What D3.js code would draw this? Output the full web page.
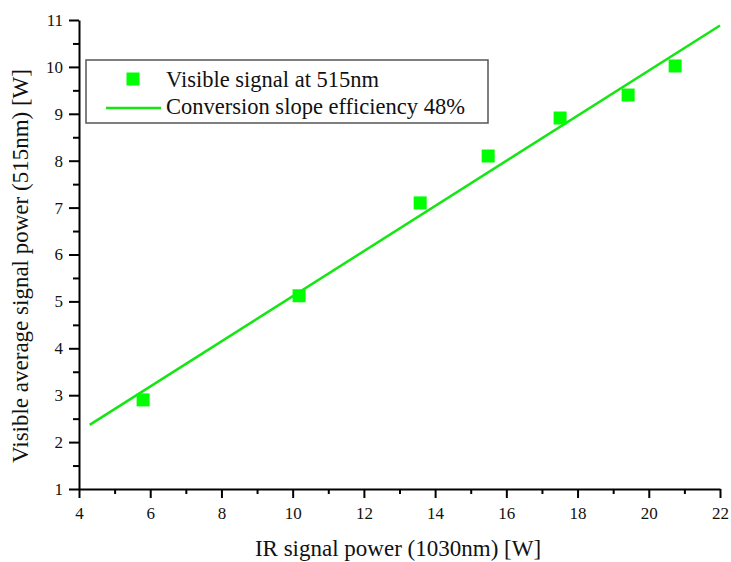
<!DOCTYPE html>
<html>
<head>
<meta charset="utf-8">
<script src="https://cdn.jsdelivr.net/npm/d3@7"></script>
<style>
  html, body { margin: 0; padding: 0; background: #fff; }
  svg { display: block; }
</style>
</head>
<body>
<svg id="chart" width="731" height="562"></svg>
<script>
// Measured visible output vs. IR input power
const irPower = [5.8, 10.18, 13.58, 15.49, 17.51, 19.42, 20.74];
const visiblePower = [2.9, 5.12, 7.1, 8.1, 8.91, 9.4, 10.02];

// Linear fit: slope 0.481 (48%), intercept 0.30, drawn from 4.3 W to 22 W
const fitX = [4.3, 22];
const fitSlope = 0.481;
const fitIntercept = 0.30;

const xTicks = [4, 6, 8, 10, 12, 14, 16, 18, 20, 22];
const yTicks = [1, 2, 3, 4, 5, 6, 7, 8, 9, 10, 11];

const legendLabels = ["Visible signal at 515nm", "Conversion slope efficiency 48%"];
const xTitle = "IR signal power (1030nm) [W]";
const yTitle = "Visible average signal power (515nm) [W]";

const serif = "'Liberation Serif', 'Times New Roman', serif";
const svg = d3.select("#chart").style("font-family", serif);
const plotLeft = 79, plotRight = 720, plotTop = 20, plotBottom = 489;
const green = "#00ff00";
const lineGreen = "#14e614";
const textColor = "#111";

const x = d3.scaleLinear().domain([4, 22]).range([plotLeft, plotRight]);
const y = d3.scaleLinear().domain([1, 11]).range([plotBottom, plotTop]);

// Axes: major ticks every 2 (x) / 1 (y), minor ticks in between
function drawAxis(g, axis) {
  g.call(axis);
  g.attr("font-family", serif).attr("font-size", 17);
  g.select(".domain").attr("stroke", "#000").attr("stroke-width", 2);
  g.selectAll(".tick line").attr("stroke", "#000").attr("stroke-width", 2);
  g.selectAll(".tick text").style("font-family", serif).style("font-size", "17px").attr("fill", textColor);
}

const xMinor = d3.range(5, 22, 2);
const yMinor = d3.range(1.5, 11, 1);

svg.append("g").attr("transform", `translate(0,${plotBottom})`)
  .call(g => g.call(d3.axisBottom(x).tickValues(xMinor).tickSize(5).tickFormat("")))
  .call(g => { g.select(".domain").remove(); g.selectAll(".tick line").attr("stroke", "#000").attr("stroke-width", 2); });

svg.append("g").attr("transform", `translate(${plotLeft},0)`)
  .call(g => g.call(d3.axisLeft(y).tickValues(yMinor).tickSize(6).tickFormat("")))
  .call(g => { g.select(".domain").remove(); g.selectAll(".tick line").attr("stroke", "#000").attr("stroke-width", 2); });

svg.append("g").attr("transform", `translate(0,${plotBottom})`)
  .call(g => drawAxis(g, d3.axisBottom(x).tickValues(xTicks).tickSize(9).tickSizeOuter(0).tickPadding(9).tickFormat(d3.format("d"))));

svg.append("g").attr("transform", `translate(${plotLeft},0)`)
  .call(g => drawAxis(g, d3.axisLeft(y).tickValues(yTicks).tickSize(10).tickSizeOuter(0).tickPadding(6).tickFormat(d3.format("d"))));

// Fitted conversion line
const line = d3.line().x(d => x(d)).y(d => y(fitIntercept + fitSlope * d));
svg.append("path")
  .datum(fitX)
  .attr("d", line)
  .attr("fill", "none")
  .attr("stroke", lineGreen)
  .attr("stroke-width", 2.5);

// Measured points
const sq = 13;
svg.append("g").selectAll("rect")
  .data(irPower.map((v, i) => [v, visiblePower[i]]))
  .join("rect")
  .attr("x", d => x(d[0]) - sq / 2)
  .attr("y", d => y(d[1]) - sq / 2)
  .attr("width", sq)
  .attr("height", sq)
  .attr("fill", green);

// Axis titles
svg.append("text")
  .attr("x", 398)
  .attr("y", 556)
  .attr("text-anchor", "middle")
  .attr("fill", textColor)
  .style("font-family", serif)
  .style("font-size", "23px")
  .text(xTitle);

svg.append("text")
  .attr("transform", "translate(28,266) rotate(-90)")
  .attr("text-anchor", "middle")
  .attr("fill", textColor)
  .style("font-family", serif)
  .style("font-size", "23px")
  .text(yTitle);

// Legend
const lg = svg.append("g");
lg.append("rect")
  .attr("x", 86).attr("y", 60)
  .attr("width", 402).attr("height", 63)
  .attr("fill", "#fff")
  .attr("stroke", "#555")
  .attr("stroke-width", 1.5);
lg.append("rect")
  .attr("x", 133 - sq / 2).attr("y", 79 - sq / 2)
  .attr("width", sq).attr("height", sq)
  .attr("fill", green);
lg.append("line")
  .attr("x1", 106).attr("x2", 161)
  .attr("y1", 108).attr("y2", 108)
  .attr("stroke", lineGreen).attr("stroke-width", 2.5);
lg.selectAll("text.leg")
  .data(legendLabels)
  .join("text")
  .attr("class", "leg")
  .attr("x", 166)
  .attr("y", (d, i) => 87 + i * 27)
  .attr("fill", textColor)
  .style("font-family", serif)
  .style("font-size", "22.5px")
  .text(d => d);
</script>
</body>
</html>
